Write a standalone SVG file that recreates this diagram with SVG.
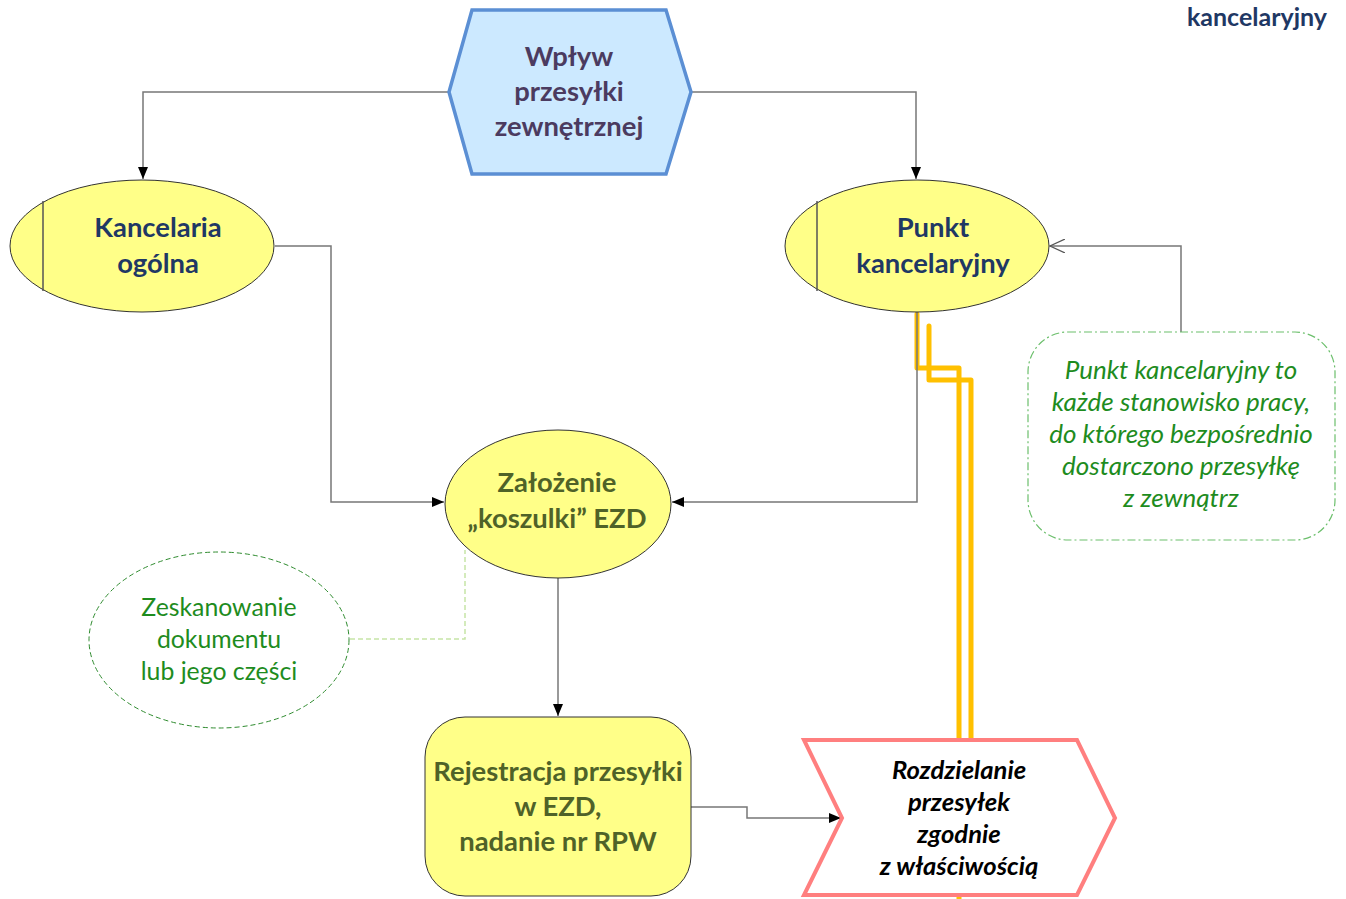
<svg xmlns="http://www.w3.org/2000/svg" width="1346" height="899" viewBox="0 0 1346 899">
<defs>
<style>
.t{font-family:Lato,"Open Sans","Liberation Sans",sans-serif;text-anchor:middle}
.b{font-weight:bold;font-size:27.4px}
.navy{fill:#1F3864}
.olive{fill:#4F6228}
.purple{fill:#4B3B60}
.green{fill:#1E8C1E;font-size:24.8px}
.gi{fill:#1E8C1E;font-size:26px;font-style:italic}
.bi{font-weight:bold;font-style:italic;font-size:25.6px;fill:#000}
.conn{fill:none;stroke:#777;stroke-width:1.5}
.yel{fill:none;stroke:#FFC000;stroke-width:5;stroke-linecap:round;stroke-linejoin:round}
.yellow{fill:#FFFF88;stroke:#333;stroke-width:1}
</style>
<marker id="arr" viewBox="0 0 12 10" refX="12" refY="5" markerWidth="12" markerHeight="10" markerUnits="userSpaceOnUse" orient="auto">
<path d="M0,0 L12,5 L0,10 Z" fill="#000"/>
</marker>
<marker id="open" viewBox="0 0 16 14" refX="15" refY="7" markerWidth="16" markerHeight="14" markerUnits="userSpaceOnUse" orient="auto">
<path d="M0,0 L15,7 L0,14" fill="none" stroke="#555" stroke-width="1.2"/>
</marker>
</defs>
<rect width="1346" height="899" fill="#fff"/>

<text class="t b navy" x="1327" y="26" style="text-anchor:end;font-size:25px">kancelaryjny</text>

<g id="yellow-lines">
<path class="yel" d="M917,314 V368 H959 V740"/>
<path class="yel" d="M929,326 V380 H971 V740"/>
<path class="yel" d="M959,893 V899"/>
</g>

<g id="connectors">
<path class="conn" d="M449,92 H143 V179" marker-end="url(#arr)"/>
<path class="conn" d="M691,92 H916 V179" marker-end="url(#arr)"/>
<path class="conn" d="M275,246 H331 V502 H444" marker-end="url(#arr)"/>
<path class="conn" d="M917,312 V502 H672" marker-end="url(#arr)"/>
<path class="conn" d="M1181,332 V246 H1050" marker-end="url(#open)"/>
<path class="conn" d="M558,578 V716" marker-end="url(#arr)"/>
<path class="conn" d="M691,807 H747 V818 H841" marker-end="url(#arr)"/>
<path d="M350,639 H465 V550" fill="none" stroke="#C6E5A6" stroke-width="1.5" stroke-dasharray="5,3"/>
</g>

<g id="wplyw">
<polygon points="472,10 666,10 691,92 666,174 472,174 449,92" fill="#CCE9FF" stroke="#5B8FD4" stroke-width="3.5"/>
<text class="t b purple" x="569" y="66">Wpływ</text>
<text class="t b purple" x="569" y="101">przesyłki</text>
<text class="t b purple" x="569" y="136">zewnętrznej</text>
</g>

<g id="kancelaria">
<ellipse class="yellow" cx="142" cy="246" rx="132" ry="66"/>
<line x1="43" y1="201" x2="43" y2="291" stroke="#555" stroke-width="1.5"/>
<text class="t b navy" x="158" y="237">Kancelaria</text>
<text class="t b navy" x="158" y="273">ogólna</text>
</g>

<g id="punkt">
<ellipse class="yellow" cx="917" cy="246" rx="132" ry="66"/>
<line x1="817" y1="201" x2="817" y2="291" stroke="#555" stroke-width="1.5"/>
<text class="t b navy" x="933" y="237">Punkt</text>
<text class="t b navy" x="933" y="273">kancelaryjny</text>
</g>

<g id="note">
<rect x="1028" y="332" width="307" height="208" rx="40" ry="40" fill="#fff" stroke="#6CBF6C" stroke-width="1.2" stroke-dasharray="8,3,2,3"/>
<text class="t gi" x="1181" y="379">Punkt kancelaryjny to</text>
<text class="t gi" x="1181" y="411">każde stanowisko pracy,</text>
<text class="t gi" x="1181" y="443">do którego bezpośrednio</text>
<text class="t gi" x="1181" y="475">dostarczono przesyłkę</text>
<text class="t gi" x="1181" y="507">z zewnątrz</text>
</g>

<g id="zalozenie">
<ellipse class="yellow" cx="558" cy="504" rx="113" ry="74"/>
<text class="t b olive" x="557" y="492">Założenie</text>
<text class="t b olive" x="557" y="528">„koszulki” EZD</text>
</g>

<g id="skan">
<ellipse cx="219" cy="640" rx="130" ry="88" fill="#fff" stroke="#2E8B2E" stroke-width="1" stroke-dasharray="5,3"/>
<text class="t green" x="219" y="616">Zeskanowanie</text>
<text class="t green" x="219" y="648">dokumentu</text>
<text class="t green" x="219" y="680">lub jego części</text>
</g>

<g id="rejestracja">
<rect class="yellow" x="425" y="717" width="266" height="179" rx="40" ry="40"/>
<text class="t b olive" x="558" y="781">Rejestracja przesyłki</text>
<text class="t b olive" x="558" y="816">w EZD,</text>
<text class="t b olive" x="558" y="851">nadanie nr RPW</text>
</g>

<g id="rozdzielanie">
<polygon points="804,740 1077,740 1115,818 1077,895 804,895 842,818" fill="#fff" stroke="#FF7F7F" stroke-width="4"/>
<text class="t bi" x="959" y="779">Rozdzielanie</text>
<text class="t bi" x="959" y="811">przesyłek</text>
<text class="t bi" x="959" y="843">zgodnie</text>
<text class="t bi" x="959" y="875">z właściwością</text>
</g>
</svg>
